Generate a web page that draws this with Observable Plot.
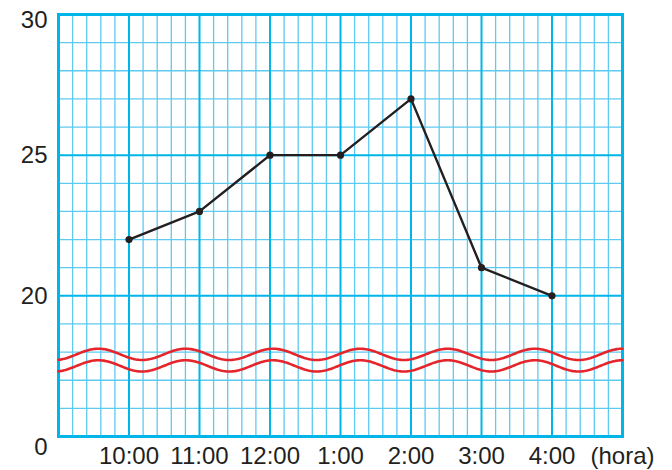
<!DOCTYPE html>
<html><head><meta charset="utf-8">
<script src="https://cdn.jsdelivr.net/npm/d3@7"></script>
<script src="https://cdn.jsdelivr.net/npm/@observablehq/plot@0.6"></script>
<style>body{margin:0;background:#fff} svg{display:block}</style>
</head><body><div id="chart"></div>
<script>
// Data
const hours = [10, 11, 12, 13, 14, 15, 16];
const temperatures = [22, 23, 25, 25, 27, 21, 20];
const xTickValues = [10, 11, 12, 13, 14, 15, 16, 17];
const xTickLabels = ["10:00", "11:00", "12:00", "1:00", "2:00", "3:00", "4:00", "(hora)"];
const yTickValues = [30, 25, 20];
const yBreakValue = 15;
const yBreakLabel = "0";

const data = hours.map((h, i) => ({hour: h, temp: temperatures[i]}));

// grid (decoration)
const minorX = d3.range(0, 41).map(k => 9 + k * 0.2).filter(v => Math.abs(v - Math.round(v)) > 1e-6);
const majorX = d3.range(10, 17);
const minorY = d3.range(16, 30).filter(v => v % 5 !== 0);
const majorY = [20, 25];

// axis-break wave (decoration)
const wave = (center) => d3.range(0, 401).map(k => {
  const x = 9 + k * 0.02;
  return {x, y: center + 0.2 * Math.cos(2 * Math.PI * (x - 9.567) / 1.238)};
});

const cyan = "#00b5e9";
const cyanLight = "#5ecaf0";
const ink = "#231f20";
const font = "Liberation Sans, Arial, Helvetica, sans-serif";

const chart = Plot.plot({
  width: 672,
  height: 470,
  marginLeft: 58,
  marginRight: 50,
  marginTop: 14,
  marginBottom: 34,
  style: {fontFamily: font, fontSize: "24px", color: ink, background: "#fff"},
  x: {type: "linear", domain: [9, 17], label: null},
  y: {type: "linear", domain: [15, 30], label: null},
  marks: [
    Plot.ruleX(minorX, {stroke: cyanLight, strokeWidth: 1.3}),
    Plot.ruleY(minorY, {stroke: cyanLight, strokeWidth: 1.3}),
    Plot.ruleX(majorX, {stroke: cyan, strokeWidth: 2}),
    Plot.ruleY(majorY, {stroke: cyan, strokeWidth: 2}),
    Plot.frame({stroke: cyan, strokeWidth: 3}),
    Plot.line(wave(17.92), {x: "x", y: "y", stroke: "#e4262c", strokeWidth: 2.6}),
    Plot.line(wave(17.51), {x: "x", y: "y", stroke: "#e4262c", strokeWidth: 2.6}),
    Plot.line(data, {x: "hour", y: "temp", stroke: ink, strokeWidth: 2.4}),
    Plot.dot(data, {x: "hour", y: "temp", r: 3.6, fill: ink}),
    Plot.axisX(xTickValues, {
      tickSize: 0, tickPadding: 10, fontSize: 24, label: null,
      tickFormat: d => xTickLabels[xTickValues.indexOf(d)]
    }),
    Plot.axisY(yTickValues.filter(v => v !== 30), {tickSize: 0, tickPadding: 11, fontSize: 24, label: null}),
    Plot.axisY(yTickValues.filter(v => v === 30), {tickSize: 0, tickPadding: 11, fontSize: 24, label: null, dy: 6}),
    Plot.axisY([yBreakValue], {tickSize: 0, tickPadding: 11, fontSize: 24, label: null, dy: 11, tickFormat: () => yBreakLabel})
  ]
});
document.getElementById("chart").appendChild(chart);
</script>
</body></html>
